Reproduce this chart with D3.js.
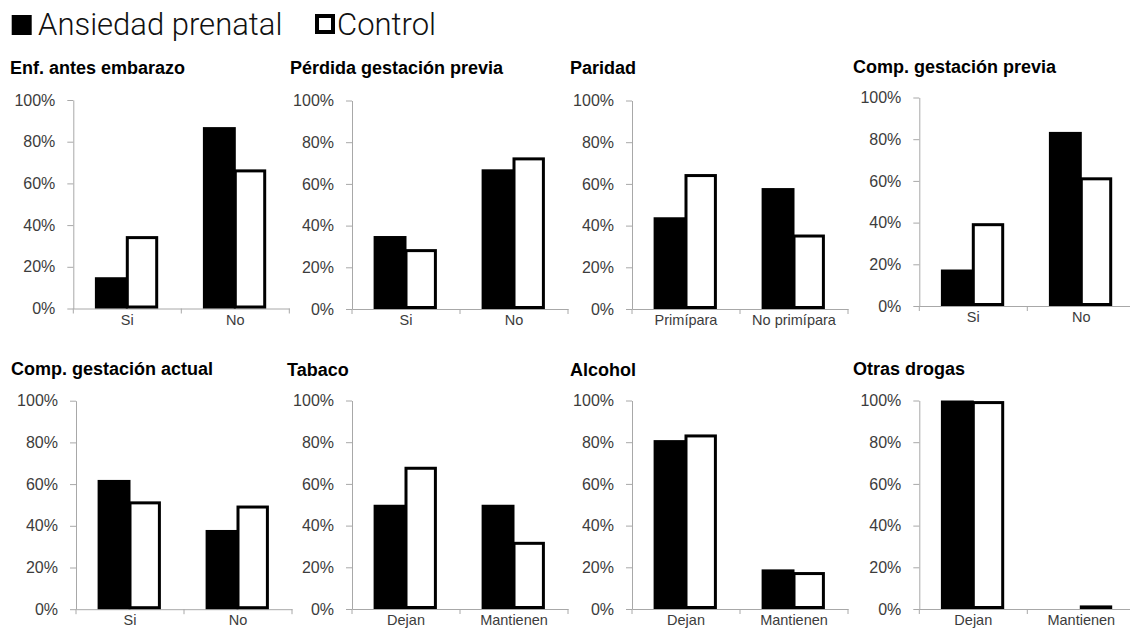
<!DOCTYPE html>
<html>
<head>
<meta charset="utf-8">
<script src="https://cdn.jsdelivr.net/npm/d3@7"></script>
<style>
  html, body { margin: 0; padding: 0; background: #fff; }
  svg { display: block; }
</style>
</head>
<body>
<script>
// ---- Data ----
const seriesNames = ["Ansiedad prenatal", "Control"];
const panelTitles = ["Enf. antes embarazo", "Pérdida gestación previa", "Paridad", "Comp. gestación previa",
                     "Comp. gestación actual", "Tabaco", "Alcohol", "Otras drogas"];
const categories = [["Si", "No"], ["Si", "No"], ["Primípara", "No primípara"], ["Si", "No"],
                    ["Si", "No"], ["Dejan", "Mantienen"], ["Dejan", "Mantienen"], ["Dejan", "Mantienen"]];
const ansiedad = [[15, 87], [35, 67], [44, 58], [17.5, 83.5], [62, 38], [50, 50], [81, 19], [100, 0]];
const control  = [[34, 66], [28, 72], [64, 35], [39, 61],     [51, 49], [67.5, 31.5], [83, 17], [99, 1]];
const yTicks = [0, 20, 40, 60, 80, 100];

// ---- Layout (positions only) ----
const layout = [
  { ax: 73.3, top: 100.0, tx: 10,  ty: 74 },
  { ax: 352,  top: 100.5, tx: 290, ty: 74 },
  { ax: 632,  top: 100.5, tx: 570, ty: 74 },
  { ax: 919.3,top: 97.5,  tx: 853, ty: 72.5 },
  { ax: 76,   top: 400.7, tx: 11,  ty: 375 },
  { ax: 352,  top: 400.5, tx: 287, ty: 376 },
  { ax: 632,  top: 400.5, tx: 570, ty: 376 },
  { ax: 919.3,top: 400.5, tx: 853, ty: 375 }
];
const plotW = 216, plotH = 208.5;
const axisColor = "#a8a8a8";
const tickTextColor = "#3c3c3c";

const svg = d3.select("body").append("svg").attr("width", 1130).attr("height", 637);

// ---- Legend ----
const leg = svg.append("g");
leg.append("rect").attr("x", 11.7).attr("y", 15).attr("width", 20).attr("height", 20).attr("fill", "#000");
leg.append("text").attr("x", 38).attr("y", 35).text(seriesNames[0])
  .attr("font-family", "Roboto, 'Liberation Sans', sans-serif").attr("font-weight", 300)
  .attr("font-size", 31).attr("fill", "#111");
leg.append("rect").attr("x", 317).attr("y", 16).attr("width", 16).attr("height", 16)
  .attr("fill", "#fff").attr("stroke", "#000").attr("stroke-width", 4);
leg.append("text").attr("x", 337).attr("y", 35).text(seriesNames[1])
  .attr("font-family", "Roboto, 'Liberation Sans', sans-serif").attr("font-weight", 300)
  .attr("font-size", 31).attr("fill", "#111");

// ---- Panels ----
panelTitles.forEach((title, i) => {
  const L = layout[i];
  const g = svg.append("g").attr("transform", `translate(${L.ax},${L.top})`);

  svg.append("text").attr("x", L.tx).attr("y", L.ty).text(title)
    .attr("font-family", "'Liberation Sans', Arial, sans-serif").attr("font-weight", "bold")
    .attr("font-size", 18).attr("fill", "#000");

  const y = d3.scaleLinear().domain([0, 100]).range([plotH, 0]);
  const x = d3.scaleBand().domain(categories[i]).range([0, plotW]).paddingInner(0.4).paddingOuter(0.2);
  const xs = d3.scaleBand().domain(seriesNames).range([0, x.bandwidth()]);

  // y axis
  const yAxis = g.append("g").call(d3.axisLeft(y).tickValues(yTicks).tickFormat(d => d + "%")
    .tickSize(6).tickSizeOuter(0).tickPadding(12));
  yAxis.select(".domain").attr("stroke", axisColor);
  yAxis.selectAll(".tick line").attr("stroke", axisColor);
  yAxis.selectAll(".tick text").attr("font-family", "'Liberation Sans', Arial, sans-serif")
    .attr("font-size", 16).attr("fill", tickTextColor);

  // x axis
  const xAxis = g.append("g").attr("transform", `translate(0,${plotH})`)
    .call(d3.axisBottom(x).tickSize(0).tickPadding(6));
  xAxis.select(".domain").attr("stroke", axisColor);
  xAxis.selectAll(".tick text").attr("font-family", "'Liberation Sans', Arial, sans-serif")
    .attr("font-size", 14.5).attr("fill", tickTextColor);
  const step = x.step();
  const bounds = [0, step, 2 * step];
  xAxis.selectAll("line.bound").data(bounds).enter().append("line").attr("class", "bound")
    .attr("x1", d => d).attr("x2", d => d).attr("y1", 0).attr("y2", 5).attr("stroke", axisColor);

  // bars
  const rows = categories[i].map((c, j) => ({ cat: c, a: ansiedad[i][j], c2: control[i][j] }));
  const grp = g.selectAll("g.grp").data(rows).enter().append("g").attr("class", "grp")
    .attr("transform", d => `translate(${x(d.cat)},0)`);
  grp.filter(d => d.a > 0).append("rect")
    .attr("x", xs(seriesNames[0])).attr("width", xs.bandwidth() + 0.5)
    .attr("y", d => y(d.a)).attr("height", d => y(0) - y(d.a))
    .attr("fill", "#000");
  grp.filter(d => d.c2 > 0).append("rect")
    .attr("x", xs(seriesNames[1])).attr("width", xs.bandwidth() - 3)
    .attr("y", d => y(d.c2)).attr("height", d => Math.max(0.3, y(0) - y(d.c2) - 1.5))
    .attr("fill", "#fff").attr("stroke", "#000").attr("stroke-width", 3);
});
</script>
</body>
</html>
